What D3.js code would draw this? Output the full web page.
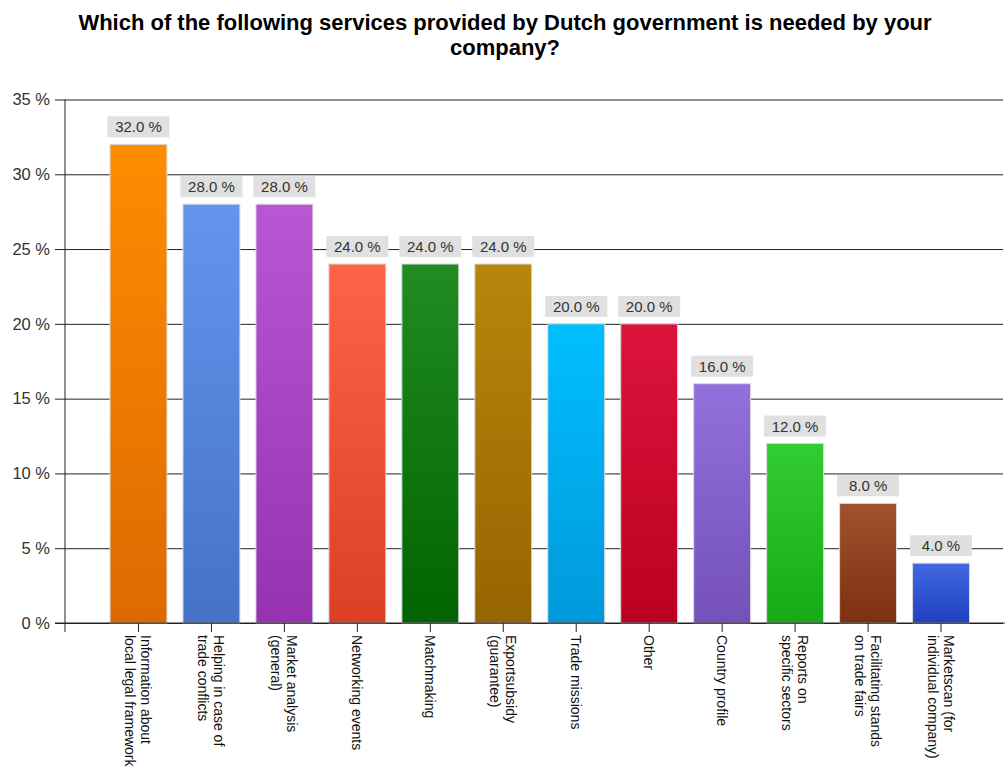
<!DOCTYPE html>
<html>
<head>
<meta charset="utf-8">
<script src="https://cdn.jsdelivr.net/npm/d3@7"></script>
<style>
  html, body { margin: 0; padding: 0; background: #fff; }
  svg { display: block; font-family: "Liberation Sans", Arial, sans-serif; }
</style>
</head>
<body>
<svg id="chart" width="1005" height="767"></svg>
<script>
// Survey answers: share of companies that need each service
const categories = [
  "Information about\nlocal legal framework",
  "Helping in case of\ntrade conflicts",
  "Market analysis\n(general)",
  "Networking events",
  "Matchmaking",
  "Exportsubsidy\n(guarantee)",
  "Trade missions",
  "Other",
  "Country profile",
  "Reports on\nspecific sectors",
  "Facilitating stands\non trade fairs",
  "Marketscan (for\nindividual company)"
];
const values = [32, 28, 28, 24, 24, 24, 20, 20, 16, 12, 8, 4];
const yTicks = [0, 5, 10, 15, 20, 25, 30, 35];
// top / bottom gradient colours per bar
const topColors = ["#ff8c00", "#6495ed", "#ba55d3", "#ff6347", "#228b22", "#b8860b",
                   "#00bfff", "#dc143c", "#9370db", "#32cd32", "#a0522d", "#4169e1"];
const bottomColors = ["#dc6a00", "#4472c6", "#9632b0", "#dc4024", "#006400", "#966400",
                      "#0099dc", "#bb0020", "#7450b8", "#16aa16", "#7c3010", "#2040c0"];
const title = ["Which of the following services provided by Dutch government is needed by your",
               "company?"];

const svg = d3.select("#chart");
const axisX = 65, plotRight = 1003, yBottom = 623, yTop = 99.5;

const x = d3.scaleBand().domain(categories).range([102, 977.5]).paddingInner(0.22).paddingOuter(0.11);
const y = d3.scaleLinear().domain([0, 35]).range([yBottom, yTop]);

// gradients
const defs = svg.append("defs");
categories.forEach((c, i) => {
  const g = defs.append("linearGradient").attr("id", "g" + i)
    .attr("x1", 0).attr("y1", 0).attr("x2", 0).attr("y2", 1);
  g.append("stop").attr("offset", "0%").attr("stop-color", topColors[i]);
  g.append("stop").attr("offset", "100%").attr("stop-color", bottomColors[i]);
});

// title
svg.append("g").selectAll("text").data(title).join("text")
  .attr("x", 505).attr("y", (d, i) => 29.5 + i * 25)
  .attr("text-anchor", "middle")
  .attr("font-weight", "bold").attr("font-size", 22).attr("fill", "#000")
  .text(d => d);

// horizontal grid lines with tick stubs
const yAxis = d3.axisLeft(y).tickValues(yTicks)
  .tickSize(-(plotRight - axisX)).tickPadding(15)
  .tickFormat(d => d + " %");
const gy = svg.append("g").attr("transform", `translate(${axisX},0)`).call(yAxis);
gy.select(".domain").remove();
gy.selectAll(".tick line").attr("x1", -10).attr("stroke", "#222").attr("stroke-width", 1);
gy.selectAll(".tick text").attr("font-size", 16.5).attr("fill", "#333")
  .attr("font-family", "'Liberation Sans', Arial, sans-serif").attr("x", -15);

// vertical axis line
svg.append("line").attr("x1", axisX).attr("x2", axisX)
  .attr("y1", y(35)).attr("y2", yBottom + 9).attr("stroke", "#222");

// bars
svg.append("g").selectAll("rect").data(values).join("rect")
  .attr("x", (d, i) => x(categories[i]))
  .attr("y", d => y(d))
  .attr("width", x.bandwidth())
  .attr("height", d => y(0) - y(d))
  .attr("fill", (d, i) => `url(#g${i})`)
  .attr("stroke", "#d9d9d9").attr("stroke-width", 1);

// value labels
const lbl = svg.append("g").selectAll("g").data(values).join("g")
  .attr("transform", (d, i) => `translate(${x(categories[i]) + x.bandwidth() / 2},${y(d) - 7})`);
lbl.append("rect").attr("x", -31).attr("y", -21).attr("width", 62).attr("height", 21)
  .attr("fill", "#e0e0e0");
lbl.append("text").attr("y", -5).attr("text-anchor", "middle")
  .attr("font-size", 15).attr("fill", "#333")
  .text(d => d.toFixed(1) + " %");

// category axis
const xAxis = d3.axisBottom(x).tickSize(9).tickFormat("");
const gx = svg.append("g").attr("transform", `translate(0,${yBottom})`).call(xAxis);
gx.select(".domain").remove();
gx.selectAll(".tick line").attr("stroke", "#222");
svg.append("line").attr("x1", axisX - 10).attr("x2", 1005)
  .attr("y1", yBottom).attr("y2", yBottom).attr("stroke", "#222");

// rotated category labels
const cl = svg.append("g").selectAll("text").data(categories).join("text")
  .attr("transform", d => `translate(${x(d) + x.bandwidth() / 2},635) rotate(90)`)
  .attr("font-size", 14).attr("fill", "#111");
cl.each(function (d) {
  const lines = d.split("\n");
  const n = lines.length;
  d3.select(this).selectAll("tspan").data(lines).join("tspan")
    .attr("x", 0)
    .attr("y", (l, j) => (j - (n - 1) / 2) * 16 + 5)
    .text(l => l);
});
</script>
</body>
</html>
